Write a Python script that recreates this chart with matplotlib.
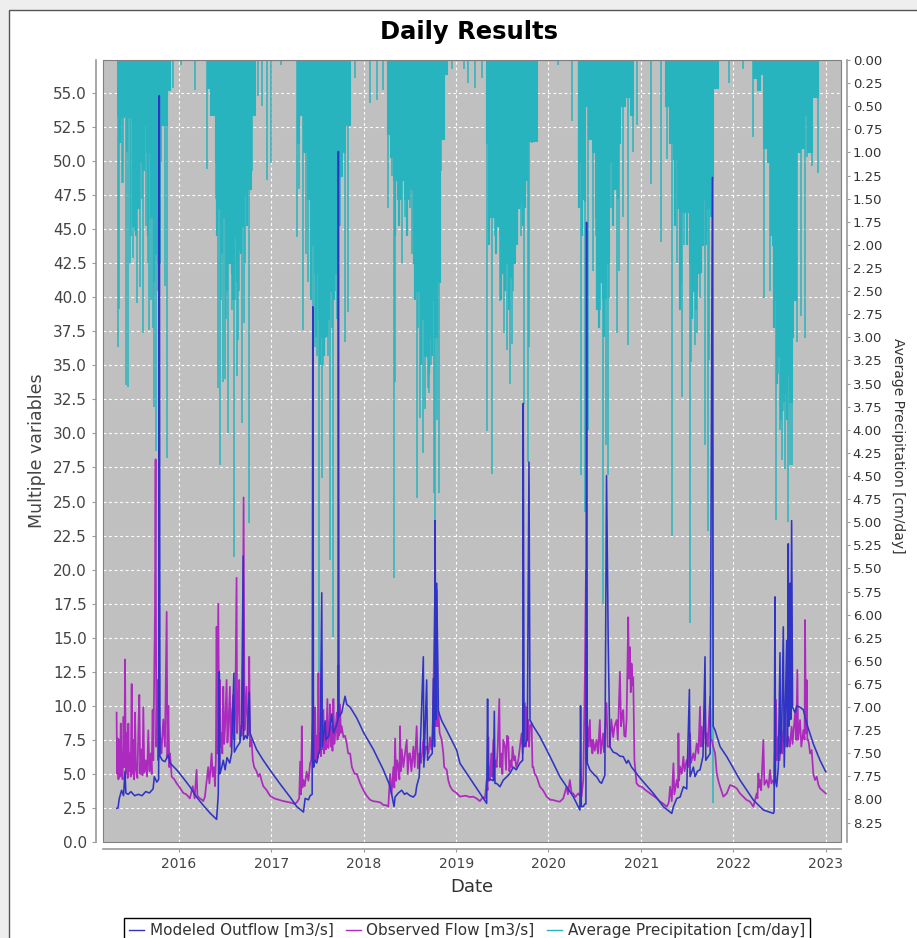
import matplotlib
matplotlib.use('Agg')
import matplotlib.pyplot as plt
import matplotlib.dates as mdates
import matplotlib.transforms as mtransforms
from matplotlib.patches import Rectangle
from matplotlib.lines import Line2D
import numpy as np
import pandas as pd

# colours (JFreeChart-like)
c_model = '#3034C4'
c_obs = '#AC2ABE'
c_prec = '#28B4BE'

# ---------------------------------------------------------------- data
# dates are decimal years, values in axis units

# Modeled Outflow [m3/s]
modeled_yr = [
    2015.325, 2015.340, 2015.354, 2015.379, 2015.400, 2015.416, 2015.425, 2015.450, 2015.480, 2015.520,
    2015.560, 2015.600, 2015.640, 2015.680, 2015.720, 2015.733, 2015.760, 2015.780, 2015.787, 2015.794,
    2015.820, 2015.848, 2015.885, 2015.903, 2015.975, 2016.047, 2016.119, 2016.191, 2016.263, 2016.340,
    2016.408,
    2016.415, 2016.426, 2016.437, 2016.444, 2016.460, 2016.480, 2016.500, 2016.520, 2016.550, 2016.570,
    2016.595, 2016.600, 2016.630, 2016.660, 2016.678, 2016.696, 2016.700, 2016.720, 2016.740, 2016.761,
    2016.770, 2016.786, 2016.840, 2016.913, 2017.003, 2017.100, 2017.201, 2017.273, 2017.346,
    2017.364, 2017.400, 2017.418, 2017.440, 2017.447, 2017.455, 2017.470, 2017.490, 2017.510, 2017.526,
    2017.544, 2017.550, 2017.580, 2017.590, 2017.620, 2017.652, 2017.670, 2017.700, 2017.720, 2017.724,
    2017.730, 2017.760, 2017.796, 2017.815, 2017.851, 2017.923, 2018.000, 2018.103, 2018.211, 2018.284,
    2018.327,
    2018.338, 2018.374, 2018.410, 2018.440, 2018.464, 2018.500, 2018.536, 2018.560, 2018.572, 2018.600,
    2018.644, 2018.650, 2018.680, 2018.690, 2018.716, 2018.740, 2018.753, 2018.765, 2018.771, 2018.780,
    2018.789, 2018.807, 2018.843, 2018.897, 2019.005, 2019.041, 2019.185, 2019.330,
    2019.340, 2019.348, 2019.370, 2019.402, 2019.413, 2019.420, 2019.438, 2019.474, 2019.510, 2019.550,
    2019.582, 2019.618, 2019.650, 2019.690, 2019.720, 2019.726, 2019.735, 2019.770, 2019.788, 2019.799,
    2019.835, 2019.907, 2020.015, 2020.123, 2020.268, 2020.340,
    2020.347, 2020.355, 2020.376, 2020.394, 2020.405, 2020.412, 2020.420, 2020.448, 2020.466, 2020.500,
    2020.520, 2020.556, 2020.574, 2020.610, 2020.628, 2020.646, 2020.664, 2020.700, 2020.737, 2020.773,
    2020.809, 2020.845, 2020.863, 2020.899, 2021.007, 2021.133, 2021.242, 2021.332,
    2021.350, 2021.386, 2021.422, 2021.458, 2021.494, 2021.523, 2021.530, 2021.566, 2021.584, 2021.610,
    2021.638, 2021.670, 2021.692, 2021.700, 2021.747, 2021.772, 2021.780, 2021.801, 2021.855, 2021.927,
    2022.071, 2022.216, 2022.324, 2022.432,
    2022.440, 2022.450, 2022.456, 2022.468, 2022.486, 2022.504, 2022.510, 2022.522, 2022.540, 2022.550,
    2022.576, 2022.585, 2022.594, 2022.600, 2022.612, 2022.620, 2022.630, 2022.640, 2022.667, 2022.685,
    2022.721, 2022.757, 2022.793, 2022.865, 2022.937, 2022.999,
]
modeled_q = [
    2.47, 2.5, 3.2, 3.8, 3.4, 5.2, 3.6, 3.5, 3.7, 3.4,
    3.5, 3.4, 3.7, 3.6, 3.9, 4.8, 4.4, 4.6, 54.8, 6.3,
    6.0, 5.9, 6.4, 5.8, 5.3, 4.7, 4.06, 3.3, 2.7, 2.1,
    1.66,
    2.4, 3.5, 12.5, 5.0, 5.4, 6.0, 5.3, 6.2, 5.8, 6.5,
    12.4, 6.6, 7.0, 7.3, 8.5, 21.0, 7.5, 7.8, 7.6, 11.0,
    8.0, 7.7, 6.8, 6.0, 5.1, 4.2, 3.3, 2.6, 2.2,
    3.2, 3.1, 3.4, 3.5, 39.3, 5.5, 6.0, 5.8, 6.5, 6.8,
    18.3, 7.0, 8.9, 7.5, 7.8, 9.4, 8.0, 8.5, 9.0, 50.7,
    9.2, 9.5, 10.7, 10.1, 9.9, 9.1, 8.0, 6.8, 5.3, 4.1,
    2.6,
    3.3, 3.6, 3.8, 3.5, 3.6, 3.4, 3.3, 3.5, 4.1, 4.8,
    13.6, 5.5, 11.9, 6.0, 6.3, 6.5, 12.0, 7.0, 23.6, 9.0,
    19.0, 9.6, 8.9, 8.2, 6.75, 5.78, 4.31, 2.84,
    10.5, 4.55, 4.6, 4.5, 9.6, 4.3, 4.3, 4.06, 4.55, 4.8,
    5.04, 5.5, 5.3, 5.8, 6.0, 32.2, 7.0, 7.5, 27.9, 8.96,
    8.5, 7.73, 6.3, 4.8, 3.33, 2.35,
    10.0, 2.6, 2.6, 2.8, 2.8, 45.5, 5.78, 5.3, 5.16, 4.9,
    4.8, 4.4, 4.31, 4.9, 26.9, 14.8, 7.0, 6.6, 6.5, 6.3,
    6.27, 5.78, 6.0, 5.5, 4.55, 3.57, 2.59, 2.1,
    2.6, 3.2, 3.3, 4.06, 3.9, 11.2, 4.8, 5.5, 4.8, 5.2,
    5.3, 6.3, 13.6, 6.0, 6.5, 48.8, 8.5, 8.2, 7.0, 6.27,
    4.55, 3.08, 2.35, 2.1,
    2.2, 18.0, 4.5, 4.06, 5.5, 13.9, 6.5, 7.7, 15.8, 5.5,
    14.8, 7.0, 21.9, 8.5, 19.0, 9.0, 23.6, 9.9, 9.5, 10.0,
    9.9, 9.7, 8.7, 7.2, 6.0, 5.16,
]

# Observed Flow [m3/s]
observed_yr = [
    2015.325, 2015.330, 2015.338, 2015.345, 2015.354, 2015.360, 2015.370, 2015.378, 2015.390, 2015.400,
    2015.410, 2015.416, 2015.425, 2015.435, 2015.445, 2015.452, 2015.460, 2015.470, 2015.478, 2015.488,
    2015.495, 2015.505, 2015.515, 2015.524, 2015.535, 2015.550, 2015.560, 2015.571, 2015.580, 2015.595,
    2015.605, 2015.614, 2015.625, 2015.640, 2015.655, 2015.668, 2015.680, 2015.695, 2015.704, 2015.715,
    2015.722, 2015.740, 2015.747, 2015.755, 2015.765, 2015.776, 2015.787, 2015.800, 2015.810, 2015.830,
    2015.848, 2015.867, 2015.875, 2015.885, 2015.895, 2015.903, 2015.921, 2015.950, 2015.975, 2016.010,
    2016.047, 2016.080, 2016.119, 2016.150, 2016.170, 2016.191, 2016.200, 2016.227, 2016.250, 2016.263,
    2016.281, 2016.300, 2016.317, 2016.330, 2016.354, 2016.365, 2016.380, 2016.390,
    2016.400, 2016.408, 2016.415, 2016.426, 2016.437, 2016.444, 2016.450, 2016.462, 2016.470, 2016.480,
    2016.490, 2016.500, 2016.516, 2016.525, 2016.535, 2016.552, 2016.560, 2016.570, 2016.588, 2016.600,
    2016.610, 2016.624, 2016.630, 2016.640, 2016.653, 2016.660, 2016.670, 2016.678, 2016.690, 2016.700,
    2016.710, 2016.720, 2016.732, 2016.745, 2016.755, 2016.761, 2016.770, 2016.786, 2016.800, 2016.815,
    2016.840, 2016.860, 2016.877, 2016.895, 2016.913, 2016.950, 2016.985, 2017.030, 2017.080, 2017.130,
    2017.201, 2017.250, 2017.273, 2017.300, 2017.310, 2017.320, 2017.328, 2017.335, 2017.346, 2017.360,
    2017.380, 2017.400, 2017.418,
    2017.430, 2017.447, 2017.455, 2017.465, 2017.472, 2017.480, 2017.490, 2017.500, 2017.508, 2017.515,
    2017.526, 2017.535, 2017.544, 2017.550, 2017.562, 2017.570, 2017.580, 2017.590, 2017.605, 2017.615,
    2017.625, 2017.634, 2017.645, 2017.652, 2017.660, 2017.670, 2017.680, 2017.690, 2017.706, 2017.715,
    2017.724, 2017.730, 2017.742, 2017.750, 2017.760, 2017.778, 2017.796, 2017.815, 2017.830, 2017.851,
    2017.870, 2017.900, 2017.923, 2017.960, 2017.995, 2018.030, 2018.067, 2018.100, 2018.139, 2018.180,
    2018.211, 2018.240, 2018.265,
    2018.284, 2018.300, 2018.320, 2018.330, 2018.338, 2018.350, 2018.360, 2018.374, 2018.385, 2018.392,
    2018.400, 2018.410, 2018.428, 2018.440, 2018.464, 2018.475, 2018.490, 2018.500, 2018.515, 2018.536,
    2018.550, 2018.572, 2018.585, 2018.600, 2018.608, 2018.620, 2018.644, 2018.655, 2018.670, 2018.680,
    2018.700, 2018.716, 2018.730, 2018.745, 2018.771, 2018.780, 2018.789, 2018.800, 2018.807, 2018.820,
    2018.843, 2018.860, 2018.870, 2018.897, 2018.915, 2018.933, 2018.960, 2019.005,
    2019.041, 2019.100, 2019.150, 2019.185, 2019.220, 2019.257, 2019.290, 2019.312, 2019.330, 2019.340,
    2019.348, 2019.355, 2019.366, 2019.380, 2019.390, 2019.402, 2019.410, 2019.425, 2019.438, 2019.450,
    2019.467, 2019.475, 2019.492, 2019.500, 2019.510, 2019.528, 2019.540, 2019.550, 2019.564, 2019.575,
    2019.590, 2019.600, 2019.610, 2019.626, 2019.636, 2019.650, 2019.672, 2019.690, 2019.708, 2019.720,
    2019.744, 2019.755, 2019.762, 2019.770, 2019.781, 2019.790, 2019.799, 2019.817, 2019.826, 2019.835,
    2019.850, 2019.871, 2019.890, 2019.907, 2019.940, 2019.979, 2020.020, 2020.051, 2020.090, 2020.123,
    2020.160, 2020.195, 2020.210, 2020.231, 2020.250, 2020.268, 2020.290, 2020.322, 2020.340, 2020.358,
    2020.376,
    2020.394, 2020.405, 2020.410, 2020.420, 2020.430, 2020.448, 2020.455, 2020.466, 2020.475, 2020.484,
    2020.500, 2020.520, 2020.535, 2020.556, 2020.565, 2020.574, 2020.592, 2020.600, 2020.610, 2020.628,
    2020.640, 2020.664, 2020.680, 2020.700, 2020.715, 2020.737, 2020.750, 2020.773, 2020.785, 2020.800,
    2020.809, 2020.820, 2020.834, 2020.845, 2020.863, 2020.870, 2020.881, 2020.890, 2020.899, 2020.910,
    2020.917, 2020.930, 2020.953, 2020.980, 2021.007, 2021.050, 2021.097, 2021.130, 2021.169, 2021.200,
    2021.242, 2021.278, 2021.300,
    2021.314, 2021.332, 2021.350, 2021.360, 2021.386, 2021.400, 2021.404, 2021.410, 2021.422, 2021.440,
    2021.458, 2021.470, 2021.494, 2021.510, 2021.530, 2021.540, 2021.566, 2021.580, 2021.602, 2021.620,
    2021.638, 2021.645, 2021.656, 2021.670, 2021.692, 2021.700, 2021.710, 2021.720, 2021.747, 2021.755,
    2021.765, 2021.780, 2021.801, 2021.819, 2021.840, 2021.855, 2021.891, 2021.927, 2021.963, 2022.000,
    2022.035, 2022.071, 2022.107, 2022.140, 2022.180, 2022.216,
    2022.252, 2022.260, 2022.270, 2022.280, 2022.288, 2022.300, 2022.324, 2022.335, 2022.360, 2022.380,
    2022.396, 2022.410, 2022.432, 2022.440, 2022.461, 2022.470, 2022.486, 2022.500, 2022.522, 2022.530,
    2022.558, 2022.570, 2022.594, 2022.610, 2022.630, 2022.640, 2022.667, 2022.680, 2022.692, 2022.700,
    2022.721, 2022.735, 2022.757, 2022.770, 2022.775, 2022.785, 2022.793, 2022.800, 2022.811, 2022.830,
    2022.847, 2022.865, 2022.883, 2022.901, 2022.920, 2022.937, 2022.960, 2022.999,
]
observed_q = [
    9.5, 5.0, 7.6, 4.6, 7.5, 4.8, 8.7, 5.2, 4.6, 9.2,
    5.5, 13.4, 5.0, 8.0, 4.7, 8.7, 5.2, 6.5, 4.8, 11.6,
    5.0, 7.5, 4.6, 9.5, 5.3, 4.7, 8.0, 10.8, 5.0, 6.8,
    4.9, 9.9, 5.1, 6.0, 4.8, 8.2, 5.2, 6.5, 5.0, 9.7,
    6.0, 17.0, 28.1, 7.0, 11.9, 6.0, 8.5, 7.5, 6.5, 9.0,
    7.0, 16.9, 6.2, 10.0, 5.5, 6.5, 4.8, 4.6, 4.3, 4.0,
    3.6, 3.5, 3.2, 4.1, 3.2, 5.3, 3.4, 3.2, 3.1, 3.0,
    3.3, 4.5, 5.5, 4.3, 6.5, 4.8, 5.5, 4.1,
    6.0, 15.8, 6.5, 17.5, 6.0, 11.9, 7.0, 8.0, 6.5, 11.4,
    7.2, 8.5, 11.9, 7.3, 8.5, 11.4, 7.0, 9.0, 10.8, 7.5,
    9.5, 19.4, 8.0, 10.0, 11.9, 7.5, 8.5, 7.8, 9.0, 25.3,
    8.2, 9.5, 11.4, 7.8, 8.5, 13.6, 7.0, 7.5, 6.0, 5.5,
    5.2, 4.8, 5.0, 4.5, 4.1, 3.8, 3.4, 3.2, 3.1, 3.0,
    2.9, 2.8, 2.9, 3.2, 5.9, 3.5, 8.5, 4.0, 4.55, 4.1,
    5.16, 4.5, 5.8,
    6.0, 9.0, 5.5, 7.5, 9.9, 6.0, 7.8, 6.2, 12.4, 6.5,
    8.0, 6.3, 9.5, 6.8, 9.7, 6.5, 8.0, 6.8, 10.5, 6.9,
    7.8, 10.1, 7.0, 8.5, 6.7, 10.5, 7.2, 8.0, 9.5, 7.5,
    13.0, 7.8, 10.1, 8.0, 8.5, 7.7, 7.8, 7.2, 6.5, 6.5,
    5.5, 5.0, 5.0, 4.3, 3.8, 3.4, 3.1, 3.0, 2.96, 2.9,
    2.72, 2.7, 2.6,
    5.0, 3.5, 5.5, 4.0, 7.6, 4.5, 6.0, 5.5, 4.6, 8.5,
    5.2, 6.8, 5.5, 6.2, 7.5, 5.0, 6.5, 6.5, 5.2, 7.0,
    5.5, 8.5, 5.4, 6.5, 6.5, 5.8, 7.5, 6.0, 7.0, 7.0,
    6.5, 7.7, 6.8, 8.0, 18.7, 8.5, 18.5, 8.5, 9.6, 8.0,
    7.5, 6.5, 5.5, 5.3, 4.5, 4.1, 3.8, 3.6,
    3.33, 3.4, 3.3, 3.33, 3.2, 3.0, 3.3, 3.2, 4.55, 3.8,
    7.7, 4.5, 4.55, 6.5, 4.8, 7.5, 5.0, 6.0, 5.5, 7.0,
    10.5, 5.5, 6.5, 5.0, 7.5, 7.0, 5.3, 7.8, 7.7, 5.2,
    6.0, 5.5, 7.0, 6.0, 6.3, 5.5, 6.0, 7.0, 7.98, 6.5,
    10.2, 7.0, 9.9, 7.5, 8.96, 7.0, 8.5, 8.7, 5.5, 5.5,
    5.0, 4.8, 4.4, 4.06, 3.8, 3.33, 3.1, 3.08, 3.0, 2.96,
    3.2, 4.06, 3.5, 4.55, 3.6, 3.57, 3.3, 3.57, 3.4, 3.33,
    4.55,
    12.1, 19.9, 6.0, 8.5, 7.0, 8.96, 7.0, 7.5, 6.5, 7.5,
    6.7, 7.49, 6.5, 8.96, 6.5, 7.0, 7.98, 6.6, 8.0, 10.2,
    7.0, 7.0, 9.0, 7.7, 8.5, 8.96, 7.5, 12.5, 8.5, 9.5,
    9.69, 7.8, 7.73, 9.0, 16.5, 12.0, 14.3, 11.0, 13.1, 11.5,
    12.1, 6.0, 4.31, 4.1, 4.06, 3.8, 3.57, 3.4, 3.21, 3.0,
    2.8, 2.59, 2.9,
    4.06, 3.0, 5.78, 3.5, 4.55, 4.0, 7.98, 4.5, 5.53, 5.0,
    6.27, 5.2, 6.02, 5.5, 7.98, 5.8, 6.51, 6.0, 7.24, 6.5,
    9.94, 7.0, 8.47, 7.0, 10.18, 7.2, 7.98, 7.0, 10.67, 7.5,
    7.49, 7.0, 6.51, 5.04, 4.4, 4.06, 3.33, 3.57, 4.18, 4.1,
    3.94, 3.57, 3.33, 3.1, 2.96, 2.59,
    3.57, 3.2, 5.04, 4.0, 4.55, 3.8, 7.49, 4.2, 4.55, 4.0,
    5.29, 4.3, 4.55, 4.2, 10.43, 6.0, 7.73, 6.0, 8.22, 6.5,
    9.45, 7.0, 7.73, 7.0, 8.47, 7.2, 9.45, 7.5, 12.63, 7.5,
    8.96, 7.0, 8.22, 7.5, 16.3, 8.0, 11.89, 7.5, 7.49, 6.5,
    6.75, 5.0, 4.55, 4.8, 4.2, 3.94, 3.8, 3.57,
]

# Average Precipitation [cm/day]: solid bulk of the daily rain in each wet season ...
precip_env_yr = [
    2015.325, 2015.345, 2015.370, 2015.400, 2015.420, 2015.450, 2015.490, 2015.510, 2015.540, 2015.570,
    2015.600, 2015.640, 2015.686, 2015.720, 2015.760, 2015.794, 2015.866, 2015.903,
    2016.300, 2016.340, 2016.390, 2016.420, 2016.460, 2016.500, 2016.530, 2016.560, 2016.590, 2016.620,
    2016.650, 2016.690, 2016.732, 2016.780, 2016.820,
    2017.273, 2017.300, 2017.340, 2017.380, 2017.418, 2017.460, 2017.500, 2017.540, 2017.580, 2017.620,
    2017.660, 2017.700, 2017.724, 2017.760, 2017.800, 2017.850,
    2018.247, 2018.280, 2018.320, 2018.360, 2018.400, 2018.440, 2018.490, 2018.536, 2018.570, 2018.608,
    2018.650, 2018.690, 2018.730, 2018.760, 2018.790, 2018.825, 2018.870, 2018.897,
    2019.322, 2019.350, 2019.400, 2019.440, 2019.480, 2019.510, 2019.560, 2019.600, 2019.636, 2019.690,
    2019.740, 2019.762, 2019.820, 2019.871,
    2020.322, 2020.350, 2020.380, 2020.400, 2020.430, 2020.470, 2020.500, 2020.540, 2020.580, 2020.620,
    2020.650, 2020.700, 2020.730, 2020.773, 2020.830, 2020.880, 2020.917,
    2021.260, 2021.300, 2021.340, 2021.386, 2021.410, 2021.430, 2021.490, 2021.520, 2021.560, 2021.600,
    2021.638, 2021.670, 2021.710, 2021.750, 2021.783, 2021.837,
    2022.216, 2022.250, 2022.290, 2022.324, 2022.360, 2022.396, 2022.420, 2022.450, 2022.480, 2022.520,
    2022.560, 2022.600, 2022.630, 2022.649, 2022.680, 2022.721, 2022.760, 2022.800, 2022.850, 2022.919,
    2022.999,
]
precip_env_cm = [
    0.60, 0.45, 0.62, 0.55, 0.60, 0.62, 1.80, 1.30, 1.60, 1.10,
    0.70, 1.00, 1.70, 2.10, 2.20, 0.70, 0.32, 0.00,
    0.30, 0.60, 1.10, 1.60, 1.70, 1.80, 2.20, 2.30, 1.90, 2.05,
    1.80, 1.45, 1.40, 0.60, 0.00,
    0.90, 0.60, 1.00, 1.50, 2.00, 2.30, 2.80, 3.00, 2.80, 2.50,
    2.30, 1.90, 1.26, 1.00, 0.70, 0.00,
    0.80, 1.05, 1.30, 1.50, 1.30, 1.50, 1.40, 2.20, 2.50, 2.80,
    3.20, 3.00, 2.60, 3.00, 2.40, 0.85, 0.15, 0.00,
    0.90, 1.70, 1.70, 1.80, 2.30, 2.20, 2.35, 2.20, 1.60, 1.52,
    1.30, 0.88, 0.88, 0.00,
    1.10, 1.50, 1.52, 0.50, 0.85, 1.00, 1.70, 2.40, 2.58, 2.20,
    1.10, 1.40, 0.90, 0.50, 0.40, 0.60, 0.00,
    0.50, 0.90, 1.07, 1.60, 2.40, 1.64, 1.64, 2.20, 2.50, 2.30,
    2.00, 1.50, 1.60, 1.30, 0.30, 0.00,
    0.20, 0.32, 0.15, 0.95, 1.10, 1.50, 2.00, 2.60, 3.20, 3.60,
    3.40, 3.70, 3.00, 2.60, 1.00, 0.95, 0.60, 1.00, 0.40, 0.00,
    0.00,
]

# ... the single storm days around and below it ...
precip_spike_yr = [
    2015.343, 2015.354, 2015.380, 2015.398, 2015.423, 2015.452, 2015.470, 2015.480, 2015.500, 2015.520,
    2015.550, 2015.580, 2015.600, 2015.614, 2015.640, 2015.660, 2015.680, 2015.700, 2015.715, 2015.733,
    2015.747, 2015.770, 2015.810, 2015.848, 2015.866, 2015.930, 2016.020,
    2016.173, 2016.300, 2016.360, 2016.400, 2016.426, 2016.444, 2016.460, 2016.480, 2016.495, 2016.510,
    2016.534, 2016.550, 2016.570, 2016.595, 2016.610, 2016.624, 2016.640, 2016.655, 2016.678, 2016.700,
    2016.720, 2016.758, 2016.790, 2016.859, 2016.900, 2016.949, 2016.992, 2017.100,
    2017.274, 2017.300, 2017.346, 2017.370, 2017.400, 2017.447, 2017.470, 2017.490, 2017.512, 2017.526,
    2017.544, 2017.560, 2017.591, 2017.610, 2017.634, 2017.650, 2017.663, 2017.690, 2017.710, 2017.740,
    2017.796, 2017.825, 2017.900,
    2018.067, 2018.139, 2018.211, 2018.260, 2018.300, 2018.327, 2018.338, 2018.410, 2018.450, 2018.500,
    2018.520, 2018.572, 2018.590, 2018.612, 2018.640, 2018.665, 2018.690, 2018.710, 2018.730, 2018.756,
    2018.772, 2018.790, 2018.810, 2018.836, 2018.950,
    2019.080, 2019.130, 2019.200, 2019.280, 2019.330, 2019.350, 2019.390, 2019.420, 2019.470, 2019.476,
    2019.517, 2019.546, 2019.582, 2019.600, 2019.618, 2019.650, 2019.700, 2019.733, 2019.774, 2019.790,
    2019.817,
    2020.100, 2020.250, 2020.347, 2020.394, 2020.430, 2020.485, 2020.510, 2020.560, 2020.592, 2020.617,
    2020.640, 2020.655, 2020.680, 2020.737, 2020.765, 2020.809, 2020.856, 2020.917, 2020.953, 2021.104,
    2021.213,
    2021.278, 2021.332, 2021.386, 2021.440, 2021.460, 2021.530, 2021.537, 2021.584, 2021.610, 2021.638,
    2021.660, 2021.692, 2021.721, 2021.740, 2021.783, 2021.950, 2022.100,
    2022.216, 2022.330, 2022.396, 2022.461, 2022.486, 2022.500, 2022.522, 2022.540, 2022.558, 2022.575,
    2022.594, 2022.612, 2022.630, 2022.667, 2022.685, 2022.731, 2022.775, 2022.793, 2022.847, 2022.912,
]
precip_spike_cm = [
    3.10, 2.69, 1.33, 1.33, 3.52, 3.54, 2.20, 1.90, 2.14, 1.85,
    2.63, 2.46, 1.50, 2.95, 1.80, 2.20, 2.92, 2.60, 2.90, 3.75,
    4.23, 2.50, 1.10, 2.44, 4.31, 0.30, 0.05,
    0.32, 1.18, 0.60, 1.50, 3.55, 4.38, 2.60, 3.48, 3.45, 2.80,
    4.03, 1.90, 2.70, 5.38, 2.60, 3.42, 3.03, 2.50, 3.93, 2.84,
    2.20, 5.01, 1.20, 0.39, 0.50, 1.30, 1.11, 0.05,
    1.92, 1.40, 2.92, 2.10, 2.40, 4.49, 3.10, 3.20, 6.62, 3.19,
    4.52, 3.30, 2.90, 3.20, 5.41, 2.90, 6.24, 2.50, 2.80, 1.80,
    3.05, 2.73, 0.20,
    0.47, 0.43, 0.32, 1.60, 1.26, 5.60, 3.48, 2.20, 1.70, 1.60,
    2.10, 4.74, 2.90, 3.87, 4.25, 3.78, 3.55, 3.60, 3.30, 4.68,
    4.99, 3.90, 4.68, 1.20, 0.10,
    0.10, 0.25, 0.30, 0.20, 4.01, 0.90, 4.48, 1.90, 1.90, 2.61,
    2.95, 3.14, 3.50, 3.07, 2.50, 1.90, 1.90, 3.72, 4.35, 3.10,
    0.90,
    0.05, 0.66, 4.49, 4.89, 4.00, 2.28, 1.90, 2.70, 5.88, 4.16,
    4.49, 2.58, 1.60, 2.95, 2.28, 1.70, 3.08, 1.00, 0.70, 1.34,
    1.97,
    1.07, 5.15, 2.20, 3.65, 2.00, 6.09, 3.27, 3.08, 2.95, 2.58,
    2.00, 4.17, 5.10, 3.25, 8.04, 0.25, 0.10,
    0.83, 2.58, 2.50, 4.98, 3.40, 4.00, 4.33, 3.80, 4.42, 3.90,
    5.00, 4.38, 4.38, 2.49, 3.05, 2.77, 3.01, 1.05, 1.15, 1.22,
]

# ... and the days that fray the lower edge of the bulk
precip_edge_yr = [
    2015.360, 2015.440, 2015.530, 2015.620, 2015.670, 2015.730, 2015.780,
    2016.410, 2016.470, 2016.520, 2016.580, 2016.630, 2016.670, 2016.740,
    2017.430, 2017.480, 2017.520, 2017.570, 2017.600, 2017.680,
    2018.340, 2018.380, 2018.470, 2018.550, 2018.620, 2018.700, 2018.740,
    2019.360, 2019.430, 2019.490, 2019.530, 2019.570, 2019.660, 2019.720, 2019.750,
    2020.330, 2020.360, 2020.520, 2020.550, 2020.600, 2020.700, 2020.750,
    2021.370, 2021.420, 2021.500, 2021.550, 2021.590, 2021.650, 2021.700, 2021.760,
    2022.410, 2022.440, 2022.470, 2022.510, 2022.550, 2022.580, 2022.620,
]
precip_edge_cm = [
    0.90, 1.00, 1.90, 1.20, 1.90, 2.40, 2.50,
    1.90, 2.10, 2.50, 2.60, 2.40, 2.10, 1.80,
    2.60, 3.00, 3.30, 3.20, 3.00, 2.60,
    1.90, 1.80, 1.90, 2.60, 3.30, 3.40, 3.20,
    2.00, 2.10, 2.60, 2.50, 2.70, 2.00, 1.80, 1.60,
    1.60, 1.90, 2.70, 2.90, 3.00, 1.80, 1.50,
    1.80, 2.70, 2.00, 2.80, 2.70, 2.30, 2.00, 1.70,
    1.90, 2.90, 3.50, 3.90, 3.70, 3.90, 3.40,
]

x_range_yr = [2015.181, 2023.165]
year_ticks = list(range(2016, 2024))
left_ticks = np.arange(0, 55.01, 2.5)
right_ticks = np.arange(0, 8.26, 0.25)


def to_dates(yrs):
    """decimal years -> timestamps"""
    yrs = np.asarray(yrs, dtype=float)
    base = np.floor(yrs).astype(int)
    start = pd.to_datetime(base.astype(str), format='%Y')
    return (start + pd.to_timedelta((yrs - base) * 365.25, unit='D')).to_numpy()


# ---------------------------------------------------------------- figure
W, H = 917, 938
fig = plt.figure(figsize=(W / 100, H / 100), dpi=100, facecolor='#EEEEEE')
panel = Rectangle((9 / W, -0.05), 1.1, 1.05 - 10 / H, transform=fig.transFigure,
                  facecolor='white', edgecolor='#555555', lw=1.0, zorder=-10)
fig.patches.append(panel)

left, right, top, bottom = 103.3, 841, 60, 842
ax = fig.add_axes([left / W, 1 - bottom / H, (right - left) / W, (bottom - top) / H])
axp = ax.twinx()
ax.set_zorder(axp.get_zorder() + 1)
ax.patch.set_visible(False)
axp.patch.set_visible(True)
axp.patch.set_facecolor('#C0C0C0')

ax.set_xlim(to_dates(x_range_yr))
ax.set_ylim(0, 57.42)
axp.set_ylim(8.46, 0)

# grid (drawn under the rain)
grid_kw = dict(color='white', lw=0.8, ls=(0, (2.5, 2.5)), zorder=0.5)
ytr = mtransforms.blended_transform_factory(axp.transAxes, ax.transData)
for v in left_ticks[1:]:
    axp.plot([0, 1], [v, v], transform=ytr, **grid_kw)
for d in to_dates(year_ticks):
    axp.axvline(d, **grid_kw)

# precipitation, hanging from the top
env_d = to_dates(precip_env_yr)
axp.fill_between(env_d, 0, precip_env_cm, step='post', color=c_prec, lw=0, zorder=2)
axp.step(env_d, precip_env_cm, where='post', color=c_prec, lw=0.8, zorder=2)
axp.vlines(to_dates(precip_edge_yr), 0, precip_edge_cm, color=c_prec, lw=1.6, zorder=2)
axp.vlines(to_dates(precip_spike_yr), 0, precip_spike_cm, color=c_prec, lw=1.1, zorder=2)

# flows
ax.plot(to_dates(observed_yr), observed_q, color=c_obs, lw=1.25, zorder=3)
ax.plot(to_dates(modeled_yr), modeled_q, color=c_model, lw=1.15, zorder=4)

# plot border
ax.add_patch(Rectangle((0, 0), 1, 1, transform=ax.transAxes, fill=False,
                       edgecolor='#808080', lw=0.8, zorder=10, clip_on=False))

# axes, ticks
spine_c = '#9A9A9A'
for s in ['top', 'right']:
    ax.spines[s].set_visible(False)
for s in ['top', 'left', 'bottom']:
    axp.spines[s].set_visible(False)
ax.spines['left'].set_position(('outward', 5))
ax.spines['bottom'].set_position(('outward', 5))
axp.spines['right'].set_position(('outward', 4))
for sp in [ax.spines['left'], ax.spines['bottom'], axp.spines['right']]:
    sp.set_color(spine_c)
    sp.set_linewidth(1.2)

ax.set_yticks(left_ticks)
ax.set_yticklabels(['%.1f' % v for v in left_ticks])
axp.set_yticks(right_ticks)
axp.set_yticklabels(['%.2f' % v for v in right_ticks])
ax.set_xticks(to_dates(year_ticks))
ax.xaxis.set_major_formatter(mdates.DateFormatter('%Y'))

ax.tick_params(axis='y', direction='out', length=3, width=0.8, color=spine_c,
               labelcolor='#444444', labelsize=11, pad=4)
ax.tick_params(axis='x', direction='out', length=2, width=0.8, color=spine_c,
               labelcolor='#444444', labelsize=10, pad=4)
axp.tick_params(axis='y', direction='out', length=2, width=0.8, color=spine_c,
                labelcolor='#333333', labelsize=9.5, pad=2.5)

# texts
fig.text(468.5 / W, 1 - 32 / H, 'Daily Results', ha='center', va='center',
         fontsize=17.5, fontweight='bold', color='black')
fig.text(37 / W, 1 - 451 / H, 'Multiple variables', rotation=90, ha='center', va='center',
         fontsize=12.5, color='#444444')
fig.text(898 / W, 1 - 446 / H, 'Average Precipitation [cm/day]', rotation=270,
         ha='center', va='center', fontsize=10, color='#333333')
fig.text(472 / W, 1 - 887 / H, 'Date', ha='center', va='center', fontsize=13, color='#333333')

# legend
handles = [Line2D([], [], color=c_model, lw=1.0),
           Line2D([], [], color=c_obs, lw=1.0),
           Line2D([], [], color=c_prec, lw=1.0)]
labels = ['Modeled Outflow [m3/s]', 'Observed Flow [m3/s]', 'Average Precipitation [cm/day]']
leg = fig.legend(handles, labels, loc='upper center', bbox_to_anchor=(467 / W, 1 - 910 / H),
                 ncol=3, fontsize=11, handlelength=1.0, handletextpad=0.35, columnspacing=0.8,
                 borderpad=0.35, fancybox=False, framealpha=1, edgecolor='black')
leg.get_frame().set_linewidth(1.0)
for t in leg.get_texts():
    t.set_color('#333333')

fig.savefig('out.png', dpi=100, facecolor=fig.get_facecolor())
